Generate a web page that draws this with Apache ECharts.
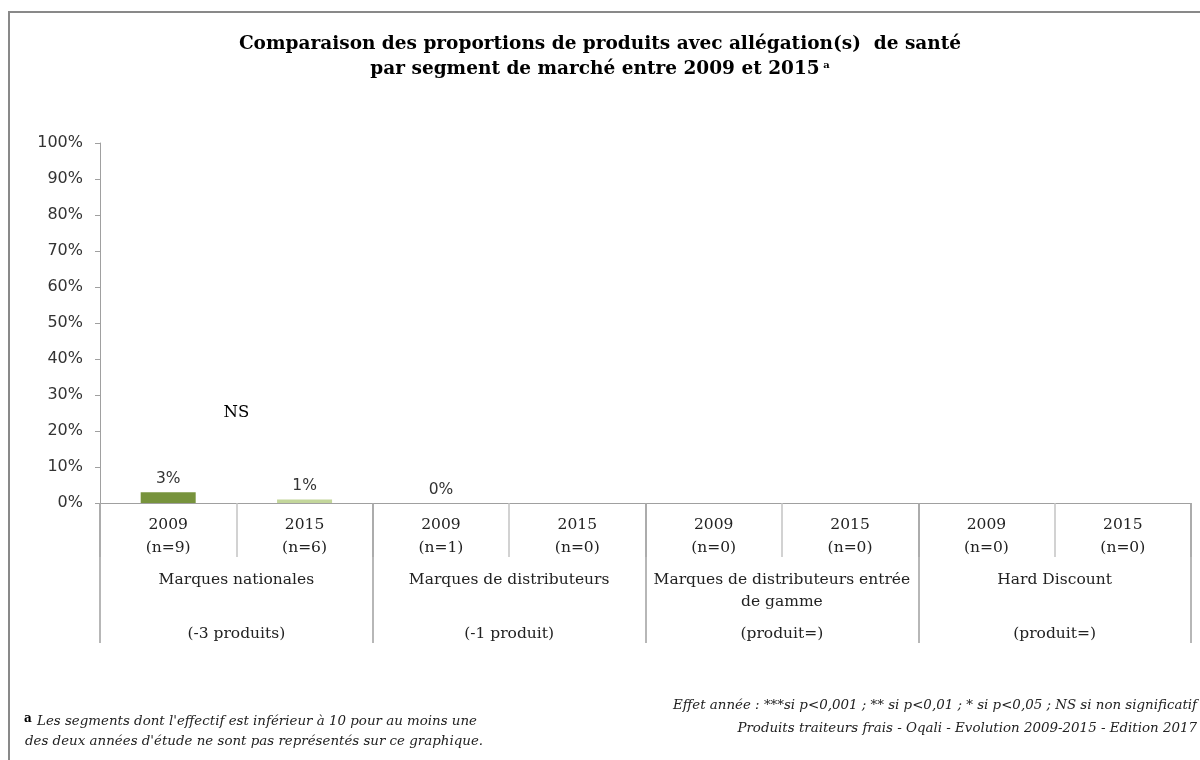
<!DOCTYPE html>
<html>
<head>
<meta charset="utf-8">
<script src="https://cdn.jsdelivr.net/npm/echarts@6/dist/echarts.min.js"></script>
<style>
html,body{margin:0;padding:0;background:#fff;}
#main{width:1200px;height:760px;}
</style>
</head>
<body>
<div id="main"></div>
<script>
// ---- data ----
var years = ['2009', '2015', '2009', '2015', '2009', '2015', '2009', '2015'];
var counts = ['(n=9)', '(n=6)', '(n=1)', '(n=0)', '(n=0)', '(n=0)', '(n=0)', '(n=0)'];
var segments = ['Marques nationales', 'Marques de distributeurs', 'Marques de distributeurs entrée\nde gamme', 'Hard Discount'];
var changes = ['(-3 produits)', '(-1 produit)', '(produit=)', '(produit=)'];
var shares = [3, 1, 0, null, null, null, null, null];
var yTicks = [0, 10, 20, 30, 40, 50, 60, 70, 80, 90, 100];
var significance = ['NS', null, null, null];
var significanceLevel = 25;

var color2009 = '#77933C';
var color2015 = '#C3D69B';
var serif = '"DejaVu Serif", serif';

var cats = years.map(function (y, i) { return y + '\n' + counts[i]; });

var chart = echarts.init(document.getElementById('main'), null, {renderer: 'canvas'});

var option = {
  animation: false,
  backgroundColor: '#ffffff',
  title: {
    text: 'Comparaison des proportions de produits avec allégation(s)  de santé\npar segment de marché entre 2009 et 2015{sup| a}',
    left: 'center',
    top: 27,
    textStyle: {
      fontFamily: serif, fontWeight: 'bold', fontSize: 18.5, color: '#000', lineHeight: 25,
      rich: { sup: { fontFamily: serif, fontWeight: 'bold', fontSize: 10, color: '#000', padding: [0, 0, 8, 0] } }
    }
  },
  grid: { left: 100, right: 9, top: 143, bottom: 257, containLabel: false },
  xAxis: [
    {
      type: 'category', data: cats, position: 'bottom',
      axisLine: { show: true, lineStyle: { color: '#a0a0a0', width: 1 } },
      axisTick: { show: true, interval: 0, length: 54, lineStyle: { color: '#c4c4c4', width: 1.5 } },
      axisLabel: { interval: 0, margin: 10, lineHeight: 23, fontFamily: serif, fontSize: 15.5, color: '#222' }
    },
    {
      type: 'category', data: segments, position: 'bottom',
      axisLine: { show: false },
      axisTick: { show: true, interval: 0, length: 140, lineStyle: { color: '#a0a0a0', width: 1.5 } },
      axisLabel: { interval: 0, margin: 66, lineHeight: 22, fontFamily: serif, fontSize: 15.5, color: '#222' }
    },
    {
      type: 'category', data: changes, position: 'bottom',
      axisLine: { show: false },
      axisTick: { show: false },
      axisLabel: { interval: 0, margin: 120, lineHeight: 22, fontFamily: serif, fontSize: 15.5, color: '#222' }
    }
  ],
  yAxis: {
    type: 'value', min: yTicks[0], max: yTicks[yTicks.length - 1], interval: yTicks[1] - yTicks[0],
    axisLine: { show: true, lineStyle: { color: '#a0a0a0', width: 1 } },
    axisTick: { show: true, length: 5, lineStyle: { color: '#a0a0a0' } },
    splitLine: { show: false },
    axisLabel: { formatter: '{value}%', margin: 17, fontFamily: '"DejaVu Sans", sans-serif', fontSize: 16, color: '#333' }
  },
  series: [{
    type: 'bar',
    xAxisIndex: 0,
    barWidth: 55,
    data: shares.map(function (v, i) {
      return { value: v, itemStyle: { color: i % 2 === 0 ? color2009 : color2015 } };
    }),
    label: {
      show: true, position: 'top', distance: 5,
      formatter: function (p) { return Math.round(p.value) + '%'; },
      fontFamily: '"DejaVu Sans", sans-serif', fontSize: 15.5, color: '#333'
    }
  }],
  graphic: []
};

chart.setOption(option);

// annotations
var footFont = 'italic 13.4px "DejaVu Serif"';
var graphics = [
  { type: 'rect', shape: { x: 9, y: 12, width: 1200, height: 760 }, style: { fill: null, stroke: '#898989', lineWidth: 2 }, silent: true, z: 100 },
  { type: 'text', x: 24, y: 719, style: { text: 'a', font: 'bold 12px "DejaVu Serif"', fill: '#000', verticalAlign: 'middle' } },
  { type: 'text', x: 37, y: 722, style: { text: "Les segments dont l'effectif est inférieur à 10 pour au moins une", font: footFont, fill: '#222', verticalAlign: 'middle' } },
  { type: 'text', x: 25, y: 742, style: { text: "des deux années d'étude ne sont pas représentés sur ce graphique.", font: footFont, fill: '#222', verticalAlign: 'middle' } },
  { type: 'text', x: 1197, y: 706, style: { text: 'Effet année : ***si p<0,001 ; ** si p<0,01 ; * si p<0,05 ; NS si non significatif', font: footFont, fill: '#222', align: 'right', verticalAlign: 'middle' } },
  { type: 'text', x: 1197, y: 729, style: { text: 'Produits traiteurs frais - Oqali - Evolution 2009-2015 - Edition 2017', font: footFont, fill: '#222', align: 'right', verticalAlign: 'middle' } }
];
significance.forEach(function (s, g) {
  if (!s) return;
  var a = chart.convertToPixel({ xAxisIndex: 0, yAxisIndex: 0 }, [g * 2, significanceLevel]);
  var b = chart.convertToPixel({ xAxisIndex: 0, yAxisIndex: 0 }, [g * 2 + 1, significanceLevel]);
  graphics.push({ type: 'text', x: (a[0] + b[0]) / 2, y: a[1], style: { text: s, font: '16.5px "DejaVu Serif"', fill: '#000', align: 'center', verticalAlign: 'middle' } });
});
chart.setOption({ graphic: graphics });
</script>
</body>
</html>
